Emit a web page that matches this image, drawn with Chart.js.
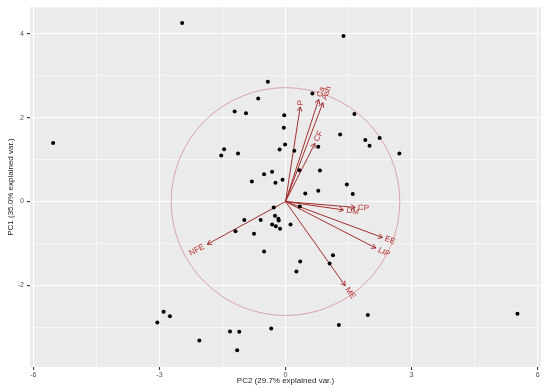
<!DOCTYPE html>
<html lang="en">
<head>
  <meta charset="UTF-8">
  <title>PCA biplot</title>
  <script src="https://cdn.jsdelivr.net/npm/chart.js"></script>
  <style>
    body { margin: 0; background: #fff; }
    #wrap { width: 550px; height: 392px; }
  </style>
</head>
<body>
  <div id="wrap"><canvas id="biplot" width="550" height="392"></canvas></div>
  <script>
    // sample scores (PC2 on x, PC1 on y)
    const scoreX = [-5.53, -2.46, 1.38, -0.42, -0.65, -1.21, -0.94, -1.53, -1.46, -1.13,
      -0.80, -0.51, -0.32, -0.24, 0.64, 1.64, -0.03, -0.04, 1.30, 1.90,
      2.00, 2.24, 2.71, -0.01, -0.14, 0.21, 0.78, 0.33, 0.82, -0.07,
      0.47, 0.78, 1.46, 1.60, -0.28, 0.34, -0.25, -0.98, -0.59, -0.17,
      -0.16, -0.32, -0.23, -0.13, 0.12, -1.19, -0.75, -0.51, 1.13, 1.05,
      0.35, 0.26, -2.90, -2.75, -3.05, -2.05, -1.32, -1.10, -1.15, -0.34,
      1.96, 1.27, 5.52];
    const scoreY = [1.40, 4.26, 3.95, 2.86, 2.46, 2.15, 2.11, 1.10, 1.25, 1.15,
      0.48, 0.65, 0.71, 0.45, 2.58, 2.09, 2.06, 1.76, 1.60, 1.47,
      1.33, 1.52, 1.15, 1.36, 1.24, 1.21, 1.31, 0.75, 0.74, 0.52,
      0.19, 0.26, 0.41, 0.18, -0.14, -0.12, -0.34, -0.44, -0.44, -0.41,
      -0.45, -0.55, -0.59, -0.65, -0.55, -0.71, -0.77, -1.19, -1.28, -1.48,
      -1.43, -1.67, -2.63, -2.74, -2.89, -3.32, -3.10, -3.11, -3.55, -3.03,
      -2.71, -2.95, -2.68];

    // variable loadings (arrow tips)
    const varNames = ['P', 'Ca', 'Ash', 'CF', 'DM', 'CP', 'EE', 'LIP', 'ME', 'NFE'];
    const loadX = [0.35, 0.79, 0.89, 0.70, 1.38, 1.66, 2.31, 2.15, 1.42, -1.86];
    const loadY = [2.26, 2.44, 2.36, 1.39, -0.20, -0.14, -0.86, -1.11, -2.01, -1.02];
    const circleRadius = 2.72;

    const xTicks = [-6, -4.5, -3, -1.5, 0, 1.5, 3, 4.5, 6];
    const xMajor = [-6, -3, 0, 3, 6];
    const yTicks = [-3, -2, -1, 0, 1, 2, 3, 4];
    const yMajor = [-2, 0, 2, 4];

    const arrowColor = '#a32f2f';
    const labelColor = '#b52a2a';

    const datasets = [{
      type: 'scatter',
      data: scoreX.map((x, i) => ({ x: x, y: scoreY[i] })),
      backgroundColor: '#000',
      borderWidth: 0,
      pointRadius: 2
    }];
    varNames.forEach((name, i) => {
      datasets.push({
        type: 'line',
        label: name,
        data: [{ x: 0, y: 0 }, { x: loadX[i], y: loadY[i] }],
        borderColor: arrowColor,
        borderWidth: 1,
        pointRadius: 0,
        fill: false,
        isArrow: true
      });
    });

    const panelBg = {
      id: 'panelBg',
      beforeDraw(chart) {
        const a = chart.chartArea, c = chart.ctx;
        c.save();
        c.fillStyle = '#ebebeb';
        c.fillRect(a.left, a.top, a.right - a.left, a.bottom - a.top);
        c.restore();
      }
    };

    const circlePlugin = {
      id: 'circle',
      beforeDatasetsDraw(chart) {
        const xs = chart.scales.x, ys = chart.scales.y, c = chart.ctx;
        const cx = xs.getPixelForValue(0), cy = ys.getPixelForValue(0);
        const rx = xs.getPixelForValue(circleRadius) - cx;
        const ry = cy - ys.getPixelForValue(circleRadius);
        c.save();
        c.strokeStyle = 'rgba(205,125,135,0.65)';
        c.lineWidth = 1;
        c.beginPath();
        c.ellipse(cx, cy, rx, ry, 0, 0, Math.PI * 2);
        c.stroke();
        c.restore();
      }
    };

    const arrowPlugin = {
      id: 'arrows',
      afterDatasetsDraw(chart) {
        const c = chart.ctx;
        c.save();
        chart.data.datasets.forEach((ds, i) => {
          if (!ds.isArrow) return;
          const pts = chart.getDatasetMeta(i).data;
          const o = pts[0], t = pts[1];
          const ang = Math.atan2(t.y - o.y, t.x - o.x);
          const len = 5, spread = Math.PI / 6;
          c.strokeStyle = arrowColor;
          c.lineWidth = 1;
          c.beginPath();
          c.moveTo(t.x - len * Math.cos(ang - spread), t.y - len * Math.sin(ang - spread));
          c.lineTo(t.x, t.y);
          c.lineTo(t.x - len * Math.cos(ang + spread), t.y - len * Math.sin(ang + spread));
          c.stroke();

          // label along the arrow direction
          c.font = '8px "Liberation Sans", Arial, sans-serif';
          c.fillStyle = labelColor;
          c.textBaseline = 'middle';
          const w = c.measureText(ds.label).width;
          const right = t.x >= o.x;
          c.save();
          c.translate(t.x, t.y);
          c.rotate(right ? ang : ang + Math.PI);
          c.textAlign = right ? 'left' : 'right';
          c.fillText(ds.label, right ? 0.25 * w : -0.25 * w, 0);
          c.restore();
        });
        c.restore();
      }
    };

    new Chart(document.getElementById('biplot').getContext('2d'), {
      data: { datasets: datasets },
      options: {
        responsive: false,
        devicePixelRatio: 1,
        animation: false,
        layout: { padding: { top: 6, right: 9, left: 0, bottom: 0 } },
        plugins: { legend: { display: false }, tooltip: { enabled: false } },
        scales: {
          x: {
            type: 'linear',
            min: -6.08, max: 6.08,
            afterBuildTicks: s => { s.ticks = xTicks.map(v => ({ value: v })); },
            afterFit: s => { s.height = 25; },
            border: { display: false },
            grid: {
              color: '#fff',
              lineWidth: ctx => xMajor.includes(ctx.tick.value) ? 1.1 : 0.5,
              tickColor: ctx => xMajor.includes(ctx.tick.value) ? '#333' : 'rgba(0,0,0,0)',
              tickLength: 3
            },
            ticks: {
              autoSkip: false,
              maxRotation: 0,
              padding: 1,
              color: '#4d4d4d',
              font: { family: '"Liberation Sans", Arial, sans-serif', size: 7 },
              callback: v => xMajor.includes(v) ? String(v) : ''
            },
            title: {
              display: true,
              text: 'PC2 (29.7% explained var.)',
              color: '#222',
              font: { family: '"Liberation Sans", Arial, sans-serif', size: 8 },
              padding: { top: 0, bottom: 6 }
            }
          },
          y: {
            type: 'linear',
            min: -3.95, max: 4.64,
            afterBuildTicks: s => { s.ticks = yTicks.map(v => ({ value: v })); },
            afterFit: s => { s.width = 30; },
            border: { display: false },
            grid: {
              color: '#fff',
              lineWidth: ctx => yMajor.includes(ctx.tick.value) ? 1.1 : 0.5,
              tickColor: ctx => yMajor.includes(ctx.tick.value) ? '#333' : 'rgba(0,0,0,0)',
              tickLength: 3
            },
            ticks: {
              autoSkip: false,
              padding: 3,
              color: '#4d4d4d',
              font: { family: '"Liberation Sans", Arial, sans-serif', size: 7 },
              callback: v => yMajor.includes(v) ? String(v) : ''
            },
            title: {
              display: true,
              text: 'PC1 (35.0% explained var.)',
              color: '#222',
              font: { family: '"Liberation Sans", Arial, sans-serif', size: 8 },
              padding: { top: 6, bottom: 0 }
            }
          }
        }
      },
      plugins: [panelBg, circlePlugin, arrowPlugin]
    });
  </script>
</body>
</html>
